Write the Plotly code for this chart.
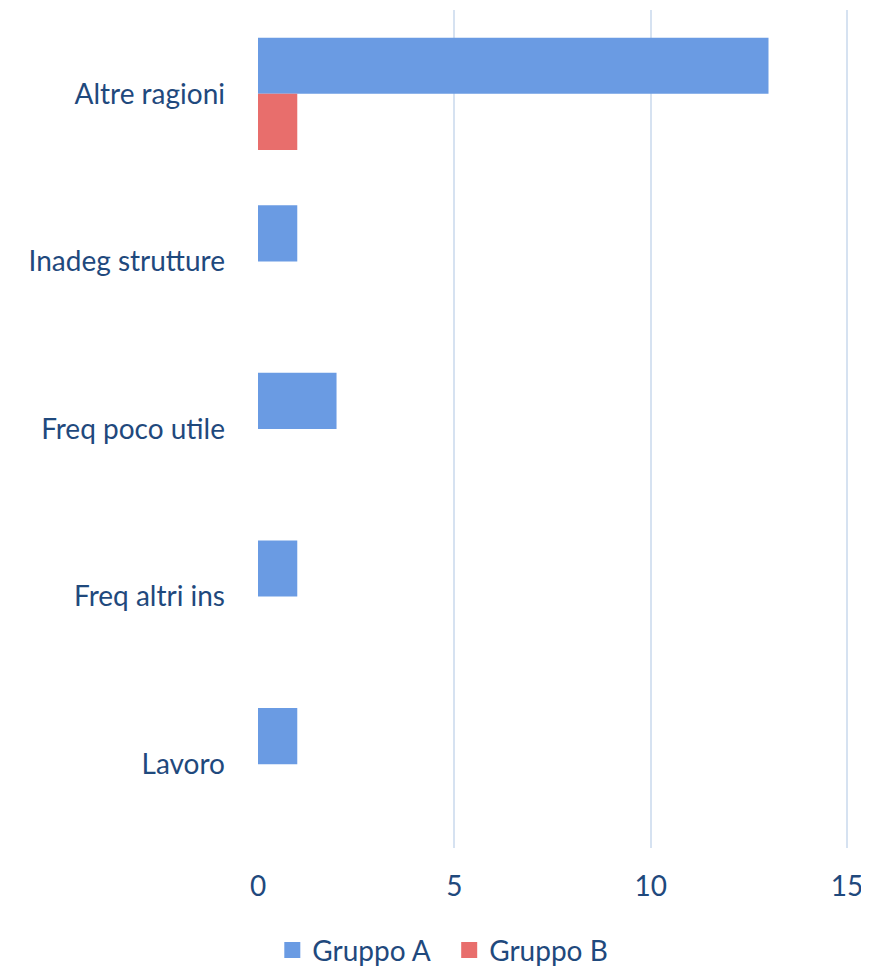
import plotly.graph_objects as go

categories = ["Altre ragioni", "Inadeg strutture", "Freq poco utile", "Freq altri ins", "Lavoro"]
gruppo_a = [13, 1, 2, 1, 1]
gruppo_b = [1, 0, 0, 0, 0]
x_ticks = [0, 5, 10, 15]

font_family = "Lato, 'Open Sans', sans-serif"
text_color = "#1f497d"
fs = 28
color_a = "#6a9be3"
color_b = "#e86e6c"

fig = go.Figure()
fig.add_trace(go.Bar(
    y=categories, x=gruppo_a, orientation="h", name="Gruppo A", showlegend=False,
    marker=dict(color=color_a, line=dict(width=0)),
))
fig.add_trace(go.Bar(
    y=categories, x=gruppo_b, orientation="h", name="Gruppo B", showlegend=False,
    marker=dict(color=color_b, line=dict(width=0)),
))
# legend entries with larger square swatches
for name, col in [("Gruppo A\u00a0\u00a0", color_a), ("Gruppo B", color_b)]:
    fig.add_trace(go.Scatter(
        x=[None], y=[None], mode="markers", name=name,
        marker=dict(symbol="square", size=18, color=col),
    ))

fig.update_layout(
    width=861, height=961,
    barmode="group", bargap=0.33, bargroupgap=0,
    plot_bgcolor="white", paper_bgcolor="white",
    margin=dict(l=250, r=20, t=2, b=121, autoexpand=False),
    font=dict(family=font_family, size=fs, color=text_color),
    legend=dict(orientation="h", xref="container", x=0.505, xanchor="center",
                y=-0.122, yanchor="middle",
                font=dict(size=fs, color=text_color), itemwidth=30, traceorder="normal"),
    showlegend=True,
)
fig.update_xaxes(
    range=[0, 15.05], tickvals=x_ticks, showgrid=True, gridcolor="#d6e2f1", gridwidth=2,
    zeroline=False, showline=False, ticks="", ticklabelstandoff=19, automargin=False,
    tickfont=dict(size=fs, color=text_color),
)
fig.update_yaxes(
    categoryorder="array", categoryarray=categories, autorange="reversed",
    showgrid=False, zeroline=False, showline=False, ticks="", automargin=False,
    ticklabelstandoff=32, tickfont=dict(size=fs, color=text_color),
)

fig.write_html("out.html")
